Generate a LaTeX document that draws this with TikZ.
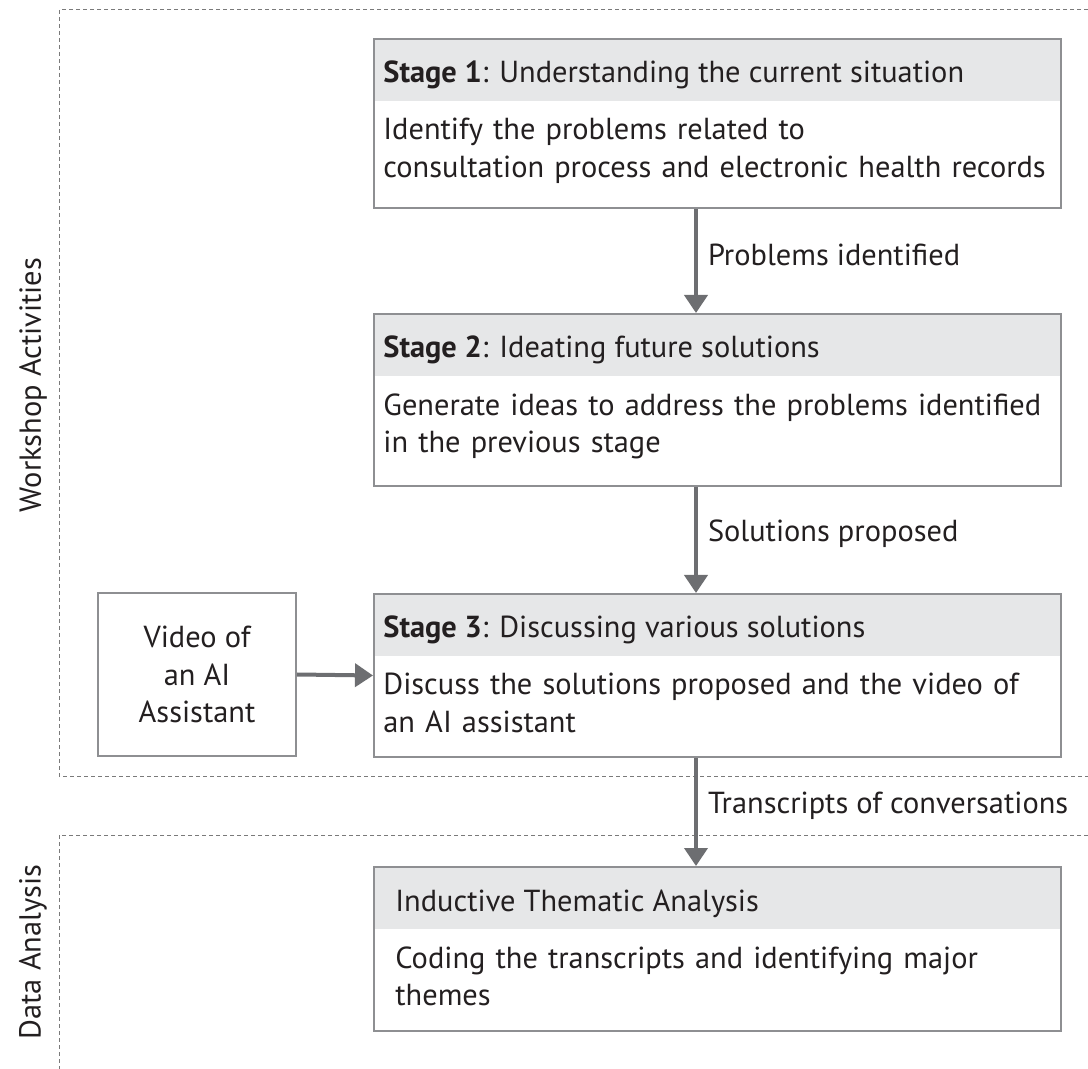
\documentclass[tikz,border=0pt]{standalone}
\usepackage{fontspec}
\setmainfont{PT Sans}
\usetikzlibrary{positioning, calc, arrows.meta}

\definecolor{headgray}{HTML}{E6E7E8}
\definecolor{boxgray}{HTML}{8E8F92}
\definecolor{flowgray}{HTML}{6D6E71}
\definecolor{lanegray}{HTML}{7A7A7A}
\definecolor{inkgray}{HTML}{231F20}

\begin{document}
\begin{tikzpicture}[x=0.5pt, y=-0.5pt, font=\fontsize{15.2}{18.8}\selectfont, text=inkgray,
    head/.style={fill=headgray, minimum width=343.5pt, minimum height=31.5pt, anchor=north west, inner sep=0pt},
    stage/.style={draw=boxgray, line width=1pt, minimum width=343.5pt, anchor=north west, inner sep=0pt},
    title/.style={anchor=base west, inner sep=0pt},
    desc/.style={anchor=north west, text width=336pt, align=left, inner sep=0pt},
    vidbox/.style={draw=boxgray, line width=1pt, minimum width=99pt, minimum height=81.5pt, align=center, inner sep=0pt},
    flow/.style={draw=flowgray, line width=2pt, -{Triangle[length=9pt, width=11.5pt]}},
    lbl/.style={right=5pt, inner sep=0pt},
    lane/.style={draw=lanegray, line width=0.5pt, dash pattern=on 2pt off 1.5pt},
    side/.style={rotate=90, inner sep=0pt}]

    \useasboundingbox (0,0) rectangle (1088,1069);

    % Dashed lanes
    \draw[lane] (1088,10) -- (59,10) -- (59,776) -- (1088,776);
    \draw[lane] (1088,835) -- (59,835) -- (59,1069);
    \node[side] (wa) at (33,385) {Workshop Activities};
    \node[side] (da) at (33,952) {Data Analysis};

    % Stage 1
    \node[head] (s1h) at (373,38) {};
    \node[stage, minimum height=84.5pt] (s1) at (373,38) {};
    \node[title] (s1t) at ($(s1.north west)+(10,45)$) {\textbf{Stage 1}: Understanding the current situation};
    \node[desc] (s1d) at ($(s1.north west)+(10,80)$) {Identify the problems related to\\consultation process and electronic health records};

    % Stage 2
    \node[head] (s2h) at (373,313) {};
    \node[stage, minimum height=86pt] (s2) at (373,313) {};
    \node[title] (s2t) at ($(s2.north west)+(10,45)$) {\textbf{Stage 2}: Ideating future solutions};
    \node[desc] (s2d) at ($(s2.north west)+(10,80)$) {Generate ideas to address the problems identified\\in the previous stage};

    % Stage 3
    \node[head] (s3h) at (373,593) {};
    \node[stage, minimum height=81.5pt] (s3) at (373,593) {};
    \node[title] (s3t) at ($(s3.north west)+(10,45)$) {\textbf{Stage 3}: Discussing various solutions};
    \node[desc] (s3d) at ($(s3.north west)+(10,80)$) {Discuss the solutions proposed and the video of\\an AI assistant};

    % Video input
    \node[vidbox] (vid) at (197,674.5) {Video of\\an AI\\Assistant};

    % Analysis
    \node[head] (tah) at (373,866) {};
    \node[stage, minimum height=82pt] (ta) at (373,866) {};
    \node[title] (tat) at ($(ta.north west)+(22,45)$) {Inductive Thematic Analysis};
    \node[desc] (tad) at ($(ta.north west)+(22,80)$) {Coding the transcripts and identifying major\\themes};

    % Arrows
    \draw[flow] ([xshift=-10.75pt]s1.south) -- node[lbl, pos=0.44] {Problems identified} ([xshift=-10.75pt]s2.north);
    \draw[flow] ([xshift=-10.75pt]s2.south) -- node[lbl, pos=0.44] {Solutions proposed} ([xshift=-10.75pt]s3.north);
    \draw[flow] ([xshift=-10.75pt]s3.south) -- node[lbl, pos=0.44] {Transcripts of conversations} ([xshift=-10.75pt]ta.north);
    \draw[flow] (vid.east) -- (s3.west);
\end{tikzpicture}
\end{document}
